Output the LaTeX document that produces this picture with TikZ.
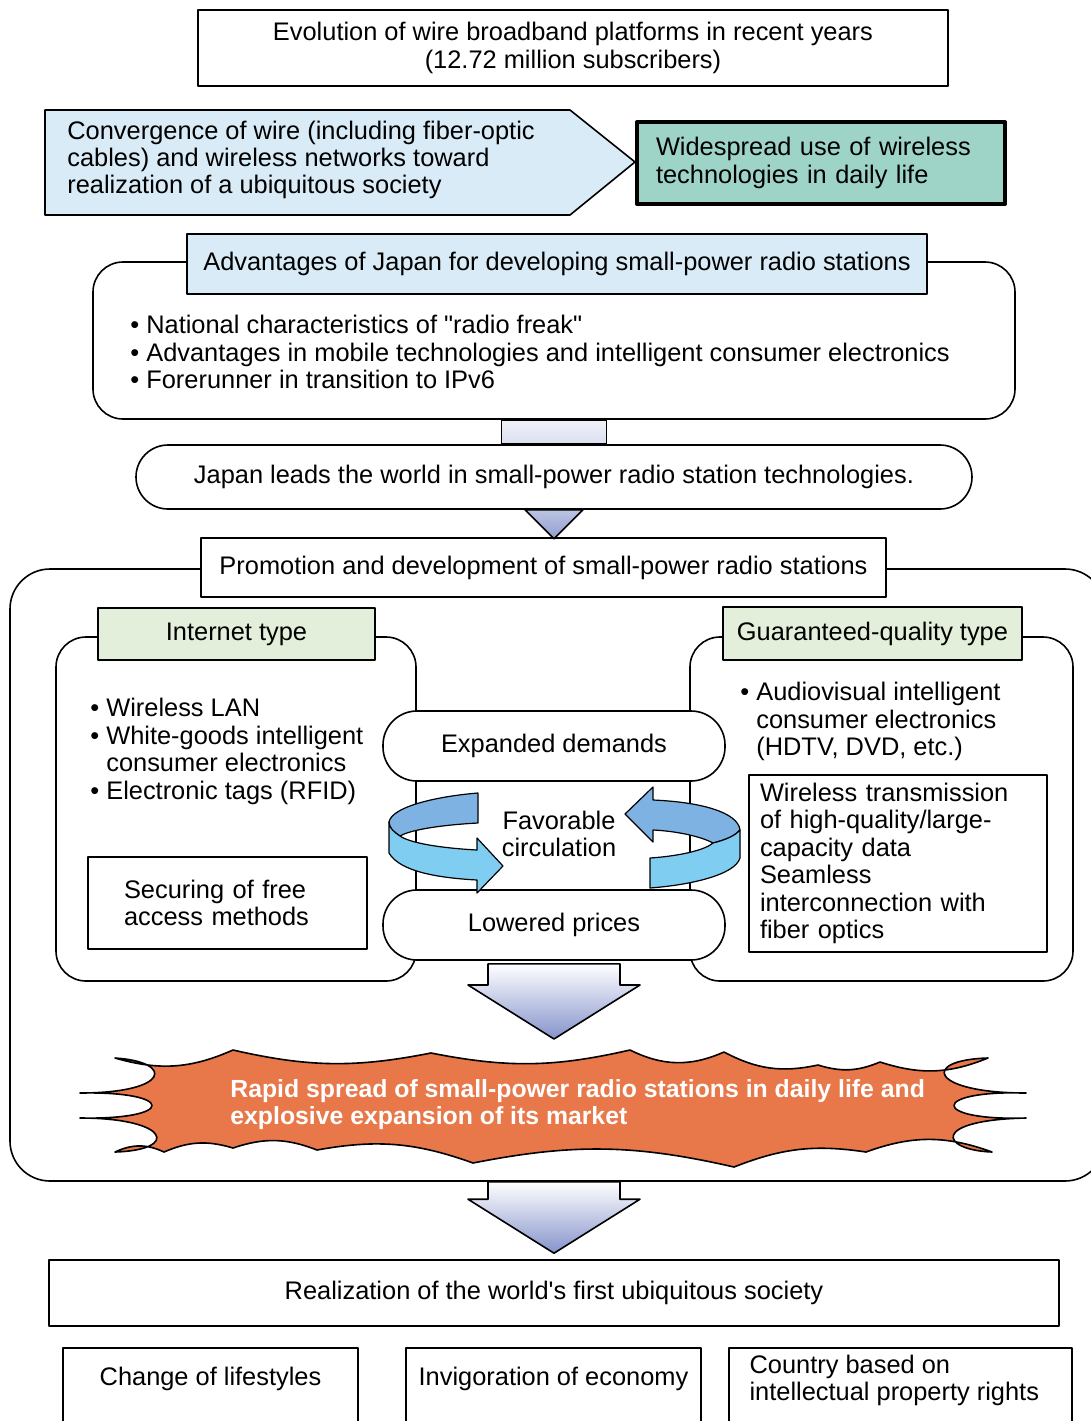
\documentclass[tikz,border=0pt]{standalone}
\usepackage{fontspec}
\setmainfont{Liberation Sans}[Ligatures=TeXOff]
\usetikzlibrary{calc}
\definecolor{paleblue}{HTML}{D8EBF6}
\definecolor{tealbox}{HTML}{9ED4C8}
\definecolor{palegreen}{HTML}{E3EFDA}
\definecolor{burstorange}{HTML}{E8784A}
\definecolor{arrowblue}{HTML}{8593CB}
\definecolor{ribbondark}{HTML}{7DB2E2}
\definecolor{ribbonlight}{HTML}{80CDF2}

\begin{document}
\begin{tikzpicture}[x=0.5pt, y=-0.5pt, line join=round,
	font=\fontsize{12.7pt}{13.7pt}\selectfont,
	plainbox/.style={rectangle, draw, line width=0.8pt},
	roundbox/.style={rectangle, draw, line width=0.8pt, rounded corners=15pt},
	pill/.style={rectangle, draw, fill=white, line width=0.8pt, rounded corners=17pt, minimum width=171pt, minimum height=35pt},
	plaintext/.style={inner sep=0pt, align=left},
	bigarrow/.style={draw, line width=0.8pt, top color=white, bottom color=arrowblue},
	ribbon/.style={draw, line width=0.6pt, fill=#1}]
\newcommand{\downblock}[2]{\draw [bigarrow] let \p1=(#1), \p2=(#2) in
	(\x1-33pt,\y1) -- (\x1+33pt,\y1) -- (\x1+33pt,\y2+27pt) -- (\x1+43pt,\y2+27pt) -- (\x2,\y2)
	-- (\x1-43pt,\y2+27pt) -- (\x1-33pt,\y2+27pt) -- cycle;}
\useasboundingbox (0,0) rectangle (1091,1421);
\fill [white] (0,0) rectangle (1091,1421);
\clip (0,0) rectangle (1091,1421);

\node [plainbox, minimum width=375pt, minimum height=38pt, align=center] (evo) at (573,48)
	{Evolution of wire broadband platforms in recent years\\(12.72 million subscribers)};

\draw [fill=paleblue, line width=0.8pt] (45,110) -- (570,110) -- (635,162) -- (570,215) -- (45,215) -- cycle;
\node [plaintext, anchor=west] (conv) at (67,160)
	{Convergence of wire (including fiber-optic\\cables) and wireless networks toward\\realization of a ubiquitous society};
\node [rectangle, draw, line width=2pt, fill=tealbox, minimum width=184pt, minimum height=41pt, text width=165pt, align=left] (wless) at (821,163)
	{Widespread use of wireless\\technologies in daily life};

\node [roundbox, minimum width=461pt, minimum height=78.5pt] (adv) at (554,340.5) {};
\node [plainbox, fill=paleblue, minimum width=370pt, minimum height=30pt] (advhead) at (557,264)
	{Advantages of Japan for developing small-power radio stations};
\node [plaintext, anchor=west] (advlist) at (130,352)
	{\textbullet\ National characteristics of "radio freak"\\\textbullet\ Advantages in mobile technologies and intelligent consumer electronics\\\textbullet\ Forerunner in transition to IPv6};

\node [plainbox, rounded corners=16pt, minimum width=418pt, minimum height=32pt] (lead) at (554,477)
	{Japan leads the world in small-power radio station technologies.};
\draw [line width=0.8pt, top color=arrowblue!12, bottom color=arrowblue!30] ([xshift=-26.25pt]adv.south) rectangle ([xshift=26.25pt]lead.north);

\node [roundbox, rounded corners=20pt, minimum width=547.5pt, minimum height=306pt] (promo) at (557.5,875) {};
\node [plainbox, fill=white, minimum width=342.5pt, minimum height=29.5pt] (promohead) at (543.5,567.5)
	{Promotion and development of small-power radio stations};
\draw [line width=0.8pt, top color=arrowblue!55, bottom color=arrowblue!90] ([xshift=-14.5pt]lead.south) -- ([xshift=14.5pt]lead.south) -- ([yshift=-14.5pt]lead.south) -- cycle;

\node [roundbox, minimum width=180pt, minimum height=172pt] (inet) at (236,809) {};
\node [plainbox, fill=palegreen, minimum width=138.5pt, minimum height=26pt] (inethead) at (236.5,634) {Internet type};
\node [plaintext, anchor=west] (inetlist) at (90,751.5)
	{\textbullet\ Wireless LAN\\\textbullet\ White-goods intelligent\\\phantom{\textbullet\ }consumer electronics\\\textbullet\ Electronic tags (RFID)};
\node [plainbox, minimum width=139.5pt, minimum height=46pt, text width=103.5pt, align=left] (free) at (227.5,903)
	{Securing of free\\access methods};

\node [roundbox, minimum width=191.5pt, minimum height=172pt] (gq) at (881.5,809) {};
\node [plainbox, fill=palegreen, minimum width=149.5pt, minimum height=26.5pt] (gqhead) at (872.5,633.5) {Guaranteed-quality type};
\node [plaintext, anchor=west] (gqlist) at (740,721.5)
	{\textbullet\ Audiovisual intelligent\\\phantom{\textbullet\ }consumer electronics\\\phantom{\textbullet\ }(HDTV, DVD, etc.)};
\node [plainbox, minimum width=149pt, minimum height=88.5pt, text width=138pt, align=left] (hq) at (898,863.5)
	{Wireless transmission\\of high-quality/large-\\capacity data\\Seamless\\interconnection with\\fiber optics};

\node [pill] (demand) at (554,746) {Expanded demands};
\node [pill] (price) at (554,925) {Lowered prices};
\node [plaintext, align=center] (circ) at (559,834) {Favorable\\circulation};

\path [ribbon=ribbondark] (478,793) -- (478,823) .. controls (440,825) and (410,830) .. (400,836)
	.. controls (394,832) and (389,828) .. (389,822) .. controls (392,806) and (440,796) .. (478,793) -- cycle;
\path [ribbon=ribbonlight] (389,822) -- (389,853) .. controls (400,872) and (440,878) .. (477,880) -- (477,893) -- (503,866)
	-- (477,838) -- (477,850) .. controls (440,848) and (410,843) .. (400,836) .. controls (394,832) and (389,828) .. (389,822) -- cycle;
\path [ribbon=ribbondark] (653,800) .. controls (700,802) and (738,812) .. (740,830) .. controls (735,836) and (725,840) .. (713,843)
	.. controls (700,836) and (675,831) .. (653,830) -- (653,842) -- (625,814) -- (653,787) -- cycle;
\path [ribbon=ribbonlight] (740,830) -- (740,858) .. controls (735,875) and (690,885) .. (650,888) -- (650,858)
	.. controls (680,856) and (705,850) .. (713,843) .. controls (725,840) and (735,836) .. (740,830) -- cycle;

\downblock{[yshift=-1.5pt]price.south}{554,1039}

\draw [fill=burstorange, line width=0.8pt] (115,1058) to[bend right=20] (233,1050) to[bend right=12] (431,1053)
	to[bend right=12] (630,1050) to[bend right=25] (724,1052) to[bend right=20] (818,1065) to[bend right=20] (880,1062)
	to[bend right=20] (988,1058) .. controls (920,1060) and (930,1093) .. (1026,1093)
	.. controls (930,1090) and (930,1121) .. (1026,1118) .. controls (930,1120) and (940,1150) .. (992,1152)
	to[bend right=20] (866,1152) to[bend right=15] (734,1167) to[bend right=12] (473,1163) to[bend right=15] (317,1150)
	to[bend right=20] (233,1148) to[bend right=20] (164,1152) to[bend right=25] (115,1152)
	.. controls (180,1150) and (170,1118) .. (80,1118) .. controls (176,1120) and (176,1091) .. (80,1093)
	.. controls (170,1093) and (175,1062) .. (115,1058) -- cycle;
\node [plaintext, anchor=west, text=white, font=\fontsize{12.4pt}{13.7pt}\selectfont\bfseries] (burst) at (230,1104.5)
	{Rapid spread of small-power radio stations in daily life and\\explosive expansion of its market};

\node [plainbox, minimum width=505pt, minimum height=33pt] (real) at (554,1293) {Realization of the world's first ubiquitous society};
\downblock{promo.south -| real.north}{[yshift=3pt]real.north}

\node [plainbox, minimum width=147.5pt, minimum height=46pt] (life) at (210.5,1394) {};
\node [plaintext] (lifetext) at ([yshift=-16pt]life.north) {Change of lifestyles};
\node [plainbox, minimum width=147.5pt, minimum height=46pt] (econ) at (553.5,1394) {};
\node [plaintext] (econtext) at ([yshift=-16pt]econ.north) {Invigoration of economy};
\node [plainbox, minimum width=171.5pt, minimum height=46pt] (ipr) at (900.5,1394) {};
\node [plaintext, anchor=west] (iprtext) at ([xshift=10.5pt, yshift=-16.75pt]ipr.north west)
	{Country based on\\intellectual property rights};
\end{tikzpicture}
\end{document}
